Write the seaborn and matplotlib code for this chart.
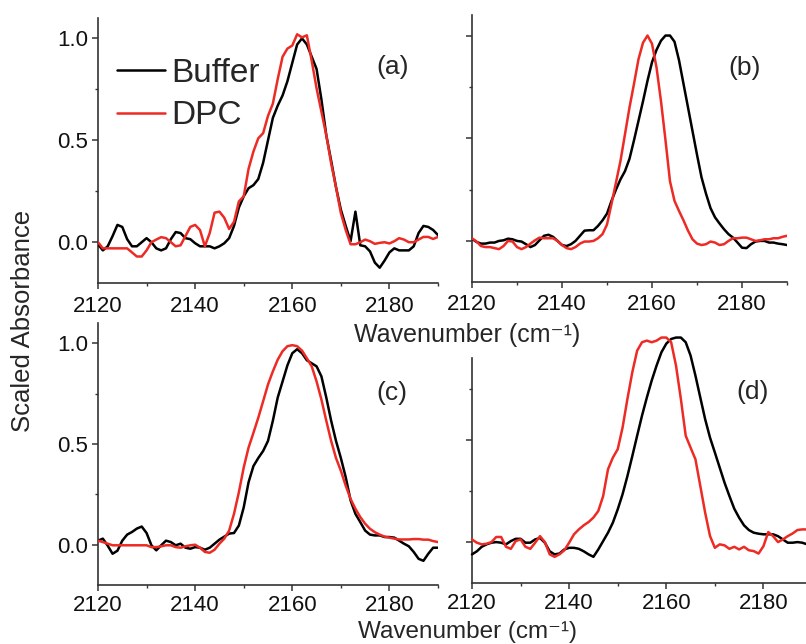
import numpy as np
import pandas as pd
import matplotlib
matplotlib.use("Agg")
import matplotlib.pyplot as plt
import seaborn as sns

wavenumber = list(range(2120, 2191))

a_buffer = [-0.01, -0.04, -0.02, 0.03, 0.085, 0.075, 0.015, -0.02, -0.02, 0.0,
            0.02, 0.0, -0.03, -0.04, -0.03, 0.015, 0.05, 0.045, 0.02, 0.015,
            -0.005, -0.02, -0.02, -0.02, -0.03, -0.02, -0.005, 0.02, 0.08, 0.17,
            0.225, 0.265, 0.28, 0.31, 0.39, 0.50, 0.61, 0.67, 0.72, 0.79,
            0.88, 0.97, 1.0, 0.97, 0.91, 0.85, 0.70, 0.525, 0.40, 0.27,
            0.16, 0.08, 0.005, 0.15, -0.015, -0.02, -0.045, -0.1, -0.125, -0.09,
            -0.05, -0.03, -0.04, -0.04, -0.04, -0.02, 0.045, 0.08, 0.075, 0.06,
            0.035]
a_dpc = [0.0, -0.03, -0.03, -0.03, -0.03, -0.03, -0.03, -0.05, -0.07, -0.07,
         -0.04, 0.0, 0.013, 0.025, 0.02, 0.0, -0.02, -0.015, 0.03, 0.075,
         0.085, 0.06, -0.02, 0.045, 0.145, 0.15, 0.12, 0.065, 0.10, 0.2,
         0.225, 0.36, 0.445, 0.51, 0.535, 0.62, 0.68, 0.80, 0.91, 0.95,
         0.965, 1.02, 1.005, 1.015, 0.89, 0.755, 0.64, 0.525, 0.387, 0.27,
         0.143, 0.06, -0.01, -0.01, 0.0, 0.013, 0.005, -0.008, -0.003, 0.0,
         -0.006, 0.005, 0.02, 0.013, 0.0, 0.0, 0.013, 0.026, 0.026, 0.016,
         0.026]

b_buffer = [0.01, -0.005, -0.013, -0.013, -0.008, -0.008, 0.0, 0.003, 0.011, 0.008,
            0.0, -0.003, -0.016, -0.03, -0.02, 0.003, 0.025, 0.03, 0.02, 0.0,
            -0.02, -0.025, -0.016, 0.0, 0.025, 0.05, 0.052, 0.052, 0.073, 0.1,
            0.133, 0.195, 0.25, 0.3, 0.34, 0.4, 0.49, 0.585, 0.68, 0.78,
            0.87, 0.93, 0.975, 1.0, 1.0, 0.97, 0.88, 0.765, 0.65, 0.535,
            0.42, 0.31, 0.23, 0.16, 0.115, 0.085, 0.057, 0.033, 0.016, -0.008,
            -0.033, -0.035, -0.016, -0.003, 0.0, 0.0, -0.008, -0.008, -0.013, -0.016,
            -0.02]
b_dpc = [0.013, -0.003, -0.025, -0.03, -0.03, -0.035, -0.04, -0.025, 0.0, -0.003,
         -0.03, -0.04, -0.03, -0.013, 0.003, 0.016, 0.013, 0.013, 0.013, 0.0,
         -0.02, -0.035, -0.04, -0.03, -0.013, -0.003, -0.003, 0.0, 0.013, 0.033,
         0.08, 0.18, 0.285, 0.39, 0.52, 0.65, 0.765, 0.885, 0.965, 1.0,
         0.96, 0.845, 0.68, 0.49, 0.29, 0.195, 0.146, 0.1, 0.05, 0.008,
         -0.013, -0.02, -0.016, -0.003, -0.008, -0.02, -0.016, 0.0, 0.013, 0.013,
         0.016, 0.016, 0.008, 0.0, 0.003, 0.008, 0.008, 0.013, 0.013, 0.02,
         0.025]

c_buffer = [0.02, 0.03, -0.005, -0.045, -0.03, 0.02, 0.05, 0.063, 0.08, 0.09,
            0.058, -0.003, -0.028, -0.003, 0.02, 0.013, -0.003, 0.005, -0.015, -0.02,
            -0.012, -0.015, -0.025, -0.015, 0.005, 0.025, 0.04, 0.055, 0.058, 0.095,
            0.185, 0.31, 0.39, 0.43, 0.465, 0.515, 0.615, 0.73, 0.81, 0.89,
            0.95, 0.97, 0.95, 0.915, 0.9, 0.885, 0.835, 0.73, 0.615, 0.515,
            0.43, 0.335, 0.22, 0.153, 0.112, 0.07, 0.05, 0.046, 0.046, 0.038,
            0.038, 0.035, 0.02, 0.005, -0.008, -0.036, -0.07, -0.08, -0.045, -0.015,
            -0.015]
c_dpc = [0.02, 0.013, 0.005, -0.003, -0.003, -0.003, -0.003, -0.003, -0.003, -0.003,
         -0.003, -0.012, -0.012, -0.008, -0.003, -0.003, -0.012, -0.015, -0.008, -0.003,
         0.0, -0.015, -0.036, -0.04, -0.025, 0.005, 0.03, 0.07, 0.153, 0.26,
         0.383, 0.482, 0.555, 0.63, 0.712, 0.795, 0.86, 0.918, 0.96, 0.985,
         0.99, 0.985, 0.963, 0.925, 0.885, 0.81, 0.72, 0.615, 0.515, 0.43,
         0.367, 0.293, 0.227, 0.178, 0.137, 0.104, 0.079, 0.062, 0.05, 0.04,
         0.035, 0.03, 0.026, 0.026, 0.026, 0.028, 0.028, 0.025, 0.025, 0.018,
         0.013]

d_buffer = [-0.06, -0.045, -0.023, -0.011, -0.003, 0.0, -0.003, -0.011, 0.005, 0.016,
            0.016, -0.003, -0.003, 0.013, 0.02, -0.003, -0.045, -0.06, -0.056, -0.036,
            -0.028, -0.028, -0.033, -0.045, -0.06, -0.072, -0.036, 0.005, 0.046, 0.095,
            0.16, 0.234, 0.323, 0.42, 0.52, 0.618, 0.707, 0.79, 0.863, 0.928,
            0.97, 0.993, 1.0, 1.0, 0.977, 0.912, 0.814, 0.707, 0.601, 0.511,
            0.438, 0.364, 0.29, 0.225, 0.163, 0.119, 0.082, 0.059, 0.046, 0.041,
            0.038, 0.038, 0.038, 0.029, 0.013, -0.003, -0.003, 0.0, -0.003, -0.011,
            -0.011]
d_dpc = [0.013, -0.003, -0.011, -0.008, 0.0, 0.025, 0.025, -0.023, -0.033, 0.005,
         0.013, -0.023, -0.033, -0.003, 0.029, 0.0, -0.06, -0.072, -0.06, -0.04,
         -0.003, 0.038, 0.062, 0.082, 0.098, 0.12, 0.152, 0.225, 0.356, 0.413,
         0.454, 0.56, 0.7, 0.83, 0.936, 0.977, 0.985, 0.977, 0.985, 1.0,
         1.0, 0.977, 0.863, 0.7, 0.52, 0.462, 0.405, 0.275, 0.144, 0.03,
         -0.028, -0.011, -0.016, -0.033, -0.023, -0.036, -0.023, -0.04, -0.044, -0.056,
         -0.02, 0.049, 0.029, 0.0, 0.013, 0.029, 0.042, 0.059, 0.062, 0.062,
         0.065]

panel_labels = ["(a)", "(b)", "(c)", "(d)"]
series_names = ["Buffer", "DPC"]
series_colors = ["#000000", "#ee2a24"]
x_ticks = [2120, 2140, 2160, 2180]
y_ticks = [0.0, 0.5, 1.0]
x_label = "Wavenumber (cm\u207b\u00b9)"
y_label = "Scaled Absorbance"

sns.set_theme(style="ticks")
plt.rcParams["font.family"] = ["Liberation Sans", "DejaVu Sans"]

fig = plt.figure(figsize=(8.06, 6.44), dpi=100)
W, H = 806.0, 644.0

def axes_px(l, r, t, b):
    return fig.add_axes([l / W, 1 - b / H, (r - l) / W, (b - t) / H])

ax_a = axes_px(98, 438, 18, 283)
ax_b = axes_px(472, 787, 15, 282)
ax_c = axes_px(98, 438, 323, 585)
ax_d = axes_px(472, 812, 358, 583)
axes = [ax_a, ax_b, ax_c, ax_d]
ylims = [(-0.2, 1.1), (-0.2, 1.1), (-0.2, 1.1), (-0.2, 0.9)]
data = [(a_buffer, a_dpc), (b_buffer, b_dpc), (c_buffer, c_dpc), (d_buffer, d_dpc)]

for i, (ax, (buf, dpc)) in enumerate(zip(axes, data)):
    assert len(buf) == len(wavenumber) and len(dpc) == len(wavenumber)
    df = pd.DataFrame({"Wavenumber": wavenumber * 2,
                       "Absorbance": buf + dpc,
                       "Sample": [series_names[0]] * len(buf) + [series_names[1]] * len(dpc)})
    sns.lineplot(data=df, x="Wavenumber", y="Absorbance", hue="Sample",
                 hue_order=series_names, palette=series_colors, ax=ax,
                 linewidth=1.8, legend=(i == 0), clip_on=(i != 3), zorder=3)
    ax.set_xlim(2120, 2190)
    ax.set_ylim(*ylims[i])
    ax.set_xticks(x_ticks)
    ax.set_xticks([2130, 2150, 2170, 2190] if i != 3 else [2130, 2150, 2170], minor=True)
    yt = y_ticks if i != 3 else [0.0, 0.5]
    ax.set_yticks(yt)
    ax.set_yticks([0.25, 0.75], minor=True)
    ax.set_xlabel("")
    ax.set_ylabel("")
    for s in ["top", "right"]:
        ax.spines[s].set_visible(False)
    for s in ["left", "bottom"]:
        ax.spines[s].set_linewidth(1.2)
        ax.spines[s].set_color("#333333")
    ax.tick_params(axis="both", which="major", length=4, width=1.1, color="#333333",
                   labelsize=16, pad=3, labelcolor="#111111")
    ax.tick_params(axis="both", which="minor", length=2.5, width=1.0, color="#333333")
    ax.tick_params(axis="x", which="major", pad=(5 if i < 2 else 3))
    ax.yaxis.set_major_formatter(matplotlib.ticker.FormatStrFormatter("%.1f"))
    if i in (1, 3):
        ax.set_yticklabels([])
    ax.set_facecolor("white")

leg = ax_a.get_legend()
handles, labels = ax_a.get_legend_handles_labels()
leg.remove()
ax_a.legend(handles, labels, loc="upper left", bbox_to_anchor=(0.055, 0.85),
            frameon=False, fontsize=24, handlelength=1.45, handletextpad=0.2,
            labelspacing=0.35, borderpad=0, borderaxespad=0)

label_pos = [(393, 67), (745, 68), (392, 393), (753, 392)]
for lab, (px, py) in zip(panel_labels, label_pos):
    fig.text(px / W, 1 - py / H, lab, ha="center", va="center", fontsize=19)

fig.text(467 / W, 1 - 342 / H, x_label, ha="center", va="baseline", fontsize=18)
fig.text(467 / W, 1 - 638 / H, x_label, ha="center", va="baseline", fontsize=17.5)
fig.text(23 / W, 1 - 321 / H, y_label, ha="center", va="center",
         rotation=90, fontsize=18.5)

fig.savefig("out.png", dpi=100, facecolor="white")
